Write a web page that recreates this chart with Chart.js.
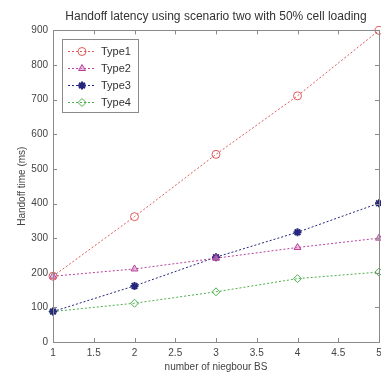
<!DOCTYPE html>
<html>
<head>
<meta charset="utf-8">
<script src="https://cdn.jsdelivr.net/npm/chart.js@4.4.0/dist/chart.umd.min.js"></script>
<style>
html,body{margin:0;padding:0;background:#fff;}
#wrap{width:381px;height:375px;}
</style>
</head>
<body>
<div id="wrap"><canvas id="c" width="381" height="375"></canvas></div>
<script>
const neighbours = [1, 2, 3, 4, 5];
const type1 = [190, 362, 542, 711, 900];
const type2 = [190, 211, 242, 273, 300];
const type3 = [88, 162, 245, 317, 401];
const type4 = [88, 112, 145, 183, 202];
const seriesNames = ['Type1', 'Type2', 'Type3', 'Type4'];
const xTicks = [1, 1.5, 2, 2.5, 3, 3.5, 4, 4.5, 5];
const yTicks = [0, 100, 200, 300, 400, 500, 600, 700, 800, 900];

const FONT = '"Liberation Sans Narrow", "Liberation Sans", Arial, sans-serif';
const AXIS = '#8a8a8a';

function pts(arr){ return neighbours.map((x,i)=>({x:x, y:arr[i]})); }

const styles = [
  {c:'#e05a5a', ps:'circle', bg:'rgba(255,255,255,0)', bw:1},
  {c:'#b8409c', ps:'triangle', bg:'rgba(220,150,200,0.6)', bw:1},
  {c:'#26267e', ps:'star', bg:'#26267e', bw:2},
  {c:'#4cb04c', ps:'rectRot', bg:'rgba(255,255,255,0)', bw:1}
];
const all = [type1, type2, type3, type4];

const datasets = all.map((arr,i)=>({
  label: seriesNames[i],
  data: pts(arr),
  borderColor: styles[i].c,
  backgroundColor: styles[i].bg,
  borderWidth: 1,
  borderDash: [2,2],
  pointStyle: styles[i].ps,
  pointRadius: 4,
  pointBorderWidth: styles[i].bw,
  pointBorderColor: styles[i].c,
  pointBackgroundColor: styles[i].bg,
  tension: 0,
  clip: false
}));

const frame = {
  id: 'frame',
  afterDatasetsDraw(chart){
    const ctx = chart.ctx, a = chart.chartArea;
    const xs = chart.scales.x, ys = chart.scales.y;
    ctx.save();
    ctx.strokeStyle = AXIS;
    ctx.lineWidth = 1;
    ctx.strokeRect(Math.round(a.left)+0.5, Math.round(a.top)+0.5, Math.round(a.right-a.left), Math.round(a.bottom-a.top));
    ctx.beginPath();
    xTicks.forEach(v=>{
      const px = Math.round(xs.getPixelForValue(v))+0.5;
      ctx.moveTo(px, a.bottom); ctx.lineTo(px, a.bottom-4);
      ctx.moveTo(px, a.top); ctx.lineTo(px, a.top+4);
    });
    yTicks.forEach(v=>{
      const py = Math.round(ys.getPixelForValue(v))+0.5;
      ctx.moveTo(a.left, py); ctx.lineTo(a.left+4, py);
      ctx.moveTo(a.right, py); ctx.lineTo(a.right-4, py);
    });
    ctx.stroke();
    ctx.restore();
  }
};

const legendBox = {
  id: 'legendBox',
  afterDraw(chart){
    const ctx = chart.ctx;
    const bx = 62, by = 39, bw = 76, bh = 73;
    ctx.save();
    ctx.fillStyle = '#fff';
    ctx.fillRect(bx, by, bw, bh);
    ctx.strokeStyle = AXIS;
    ctx.lineWidth = 1;
    ctx.strokeRect(bx+0.5, by+0.5, bw, bh);
    chart.data.datasets.forEach((ds,i)=>{
      const y = 51.5 + i*17;
      ctx.strokeStyle = ds.borderColor;
      ctx.setLineDash([2,2]);
      ctx.lineWidth = 1;
      ctx.beginPath(); ctx.moveTo(68, y); ctx.lineTo(95, y); ctx.stroke();
      ctx.setLineDash([]);
      ctx.fillStyle = ds.pointBackgroundColor;
      ctx.strokeStyle = ds.borderColor;
      ctx.lineWidth = ds.pointBorderWidth;
      Chart.helpers.drawPoint(ctx, {pointStyle: ds.pointStyle, radius: 4, borderWidth: ds.pointBorderWidth, rotation: 0}, 82, y);
      ctx.fillStyle = '#333';
      ctx.font = '11px ' + FONT;
      ctx.textBaseline = 'middle';
      ctx.textAlign = 'left';
      ctx.fillText(ds.label, 101, y);
    });
    ctx.restore();
  }
};

new Chart(document.getElementById('c'), {
  type: 'line',
  data: { datasets },
  plugins: [frame, legendBox],
  options: {
    responsive: false,
    animation: false,
    devicePixelRatio: 1,
    layout: { autoPadding: false, padding: { left: 0, right: 2, top: 0, bottom: 0 } },
    plugins: {
      legend: { display: false },
      tooltip: { enabled: false },
      title: {
        display: true,
        fullSize: false,
        text: 'Handoff latency using scenario two with 50% cell loading',
        color: '#333',
        font: { family: FONT, size: 12, weight: 'normal' },
        padding: { top: 9, bottom: 7 }
      }
    },
    scales: {
      x: {
        type: 'linear',
        min: 1, max: 5,
        afterBuildTicks(s){ s.ticks = xTicks.map(v=>({value:v})); },
        afterFit(s){ s.height = 33; s.paddingRight = 0; s.paddingLeft = 0; },
        grid: { display: false, drawTicks: false },
        border: { display: false },
        ticks: { color: '#444', font: { family: FONT, size: 10 }, padding: 5, maxRotation: 0, autoSkip: false,
                 callback: (v)=>String(v) },
        title: { display: true, text: 'number of niegbour BS', color: '#444',
                 font: { family: FONT, size: 10 }, padding: { top: 0, bottom: 2 } }
      },
      y: {
        type: 'linear',
        min: 0, max: 900,
        afterBuildTicks(s){ s.ticks = yTicks.map(v=>({value:v})); },
        afterFit(s){ s.width = 53; s.paddingTop = 0; s.paddingBottom = 0; },
        grid: { display: false, drawTicks: false },
        border: { display: false },
        ticks: { color: '#444', font: { family: FONT, size: 10 }, padding: 5, autoSkip: false,
                 callback: (v)=>String(v) },
        title: { display: true, text: 'Handoff time (ms)', color: '#444',
                 font: { family: FONT, size: 10 }, padding: { top: 16, bottom: 0 } }
      }
    }
  }
});
</script>
</body>
</html>
